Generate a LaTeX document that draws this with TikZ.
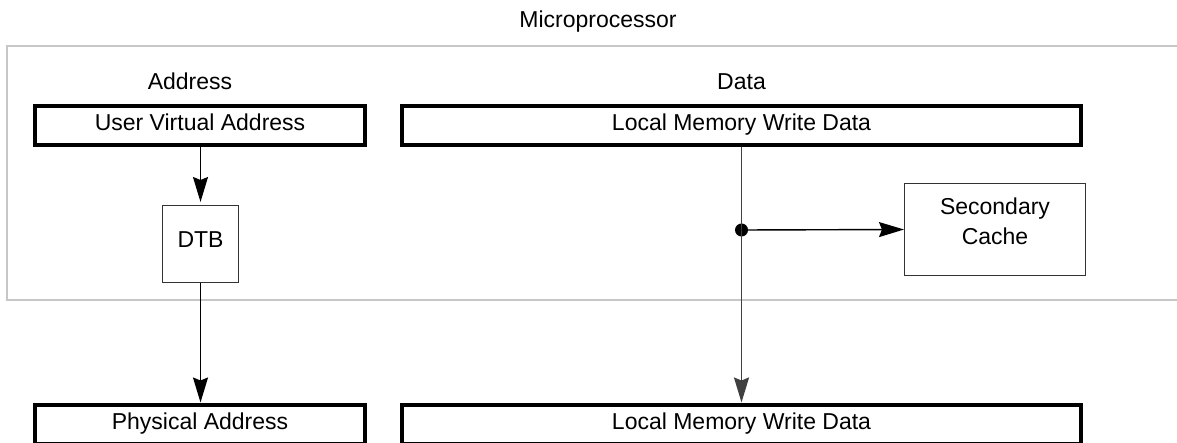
\documentclass[tikz,border=0pt]{standalone}
\usepackage{fontspec}
\setmainfont{Liberation Sans}
\usetikzlibrary{arrows.meta}

\tikzset{
  bus/.style={draw=black, line width=4pt, fill=white, inner sep=0pt,
    text height=17pt, text depth=6pt},
  unit/.style={draw=black!80, line width=1.3pt, fill=white, inner sep=0pt},
  lbl/.style={anchor=base, inner sep=0pt},
  flow/.style={draw=black, line width=1.4pt,
    -{Stealth[length=25pt, width=15pt, inset=3pt]}},
  frame/.style={draw=black!22, line width=2pt},
}

\begin{document}
\begin{tikzpicture}[x=1pt, y=-1pt, font=\fontsize{23}{30}\selectfont]
  \useasboundingbox (0,0) rectangle (1177,443);
  \clip (0,0) rectangle (1177,443);

  % processor boundary (open to the right)
  \draw[frame] (7,46) rectangle (1200,300);
  \node[lbl] (mp) at (598,28) {Microprocessor};

  % column headings
  \node[lbl] (haddr) at (190,90) {Address};
  \node[lbl] (hdata) at (741.5,90) {Data};

  % buses
  \node[bus, minimum width=330pt, minimum height=39pt] (uva) at (200,125.5) {User Virtual Address};
  \node[bus, minimum width=679pt, minimum height=39pt] (ldtop) at (741.5,125.5) {Local Memory Write Data};
  \node[bus, minimum width=330pt, minimum height=39pt] (pa) at (200,424) {Physical Address};
  \node[bus, minimum width=679pt, minimum height=39pt] (ldbot) at (741.5,424) {Local Memory Write Data};

  % units
  \node[unit, minimum width=75.7pt, minimum height=76.7pt, text height=17pt, text depth=10pt] (dtb) at (200.5,244) {DTB};
  \node[unit, minimum width=180.7pt, minimum height=91.7pt] (sc) at (995,229.5) {};
  \node[align=center, inner sep=0pt] (sctext) at (995,221.5) {Secondary\\Cache};

  % address path
  \draw[flow, shorten >=3pt] (uva.south -| dtb.north) -- (dtb.north);
  \draw[flow] (dtb.south) -- (dtb.south |- pa.north);

  % data path with tap to the secondary cache
  \node[circle, fill=black, inner sep=0pt, minimum size=13pt] (tap) at (741.5,230) {};
  \draw[flow, draw=black!75, line width=1.8pt] (ldtop.south) -- (ldbot.north);
  \draw[flow] (tap.center) -- (sc.west);
\end{tikzpicture}
\end{document}
